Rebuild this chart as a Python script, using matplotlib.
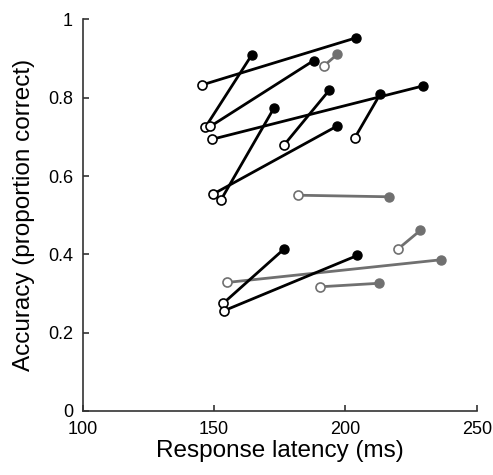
import matplotlib
matplotlib.use('Agg')
import matplotlib.pyplot as plt

# Each pair: open circle = start (latency, accuracy), filled circle = end
black_x0 = [145.5, 146.7, 148.6, 149.3, 149.4, 152.6, 176.6, 203.6, 153.5, 153.8]
black_y0 = [0.833, 0.725, 0.727, 0.694, 0.553, 0.539, 0.679, 0.698, 0.275, 0.256]
black_x1 = [204.0, 164.4, 187.9, 229.4, 196.9, 172.9, 193.8, 213.2, 176.7, 204.5]
black_y1 = [0.953, 0.910, 0.895, 0.830, 0.728, 0.775, 0.819, 0.809, 0.414, 0.397]

gray_x0 = [191.9, 181.8, 220.1, 154.8, 190.3]
gray_y0 = [0.882, 0.551, 0.414, 0.328, 0.317]
gray_x1 = [196.9, 216.6, 228.5, 236.3, 212.8]
gray_y1 = [0.911, 0.547, 0.461, 0.386, 0.326]

x_ticks = [100, 150, 200, 250]
y_ticks = [0, 0.2, 0.4, 0.6, 0.8, 1]
y_tick_labels = ['0', '0.2', '0.4', '0.6', '0.8', '1']

plt.rcParams['font.family'] = ['Liberation Sans', 'DejaVu Sans']

fig = plt.figure(figsize=(4.93, 4.75), dpi=100)
ax = fig.add_axes([0.168, 0.135, 0.799, 0.824])


def draw_pairs(x0, y0, x1, y1, color):
    for a, b, c, d in zip(x0, y0, x1, y1):
        ax.plot([a, c], [b, d], color=color, lw=2.0, solid_capstyle='butt', zorder=2)
        ax.plot(c, d, 'o', color=color, ms=6.5, zorder=3)
        ax.plot(a, b, 'o', mfc='white', mec=color, mew=1.2, ms=6.5, zorder=3)


draw_pairs(gray_x0, gray_y0, gray_x1, gray_y1, '#707070')
draw_pairs(black_x0, black_y0, black_x1, black_y1, 'black')

ax.set_xlim(100, 250)
ax.set_ylim(0, 1)
ax.set_xticks(x_ticks)
ax.set_yticks(y_ticks)
ax.set_yticklabels(y_tick_labels)
for s in ['top', 'right']:
    ax.spines[s].set_visible(False)
for s in ['left', 'bottom']:
    ax.spines[s].set_color('#333333')
    ax.spines[s].set_linewidth(1.2)
ax.tick_params(direction='in', length=4, width=1.2, color='#333333',
               labelsize=13, pad=7)
ax.set_xlabel('Response latency (ms)', fontsize=17.5, labelpad=2)
ax.set_ylabel('Accuracy (proportion correct)', fontsize=17.5, labelpad=9)

fig.savefig('out.png', dpi=100)
